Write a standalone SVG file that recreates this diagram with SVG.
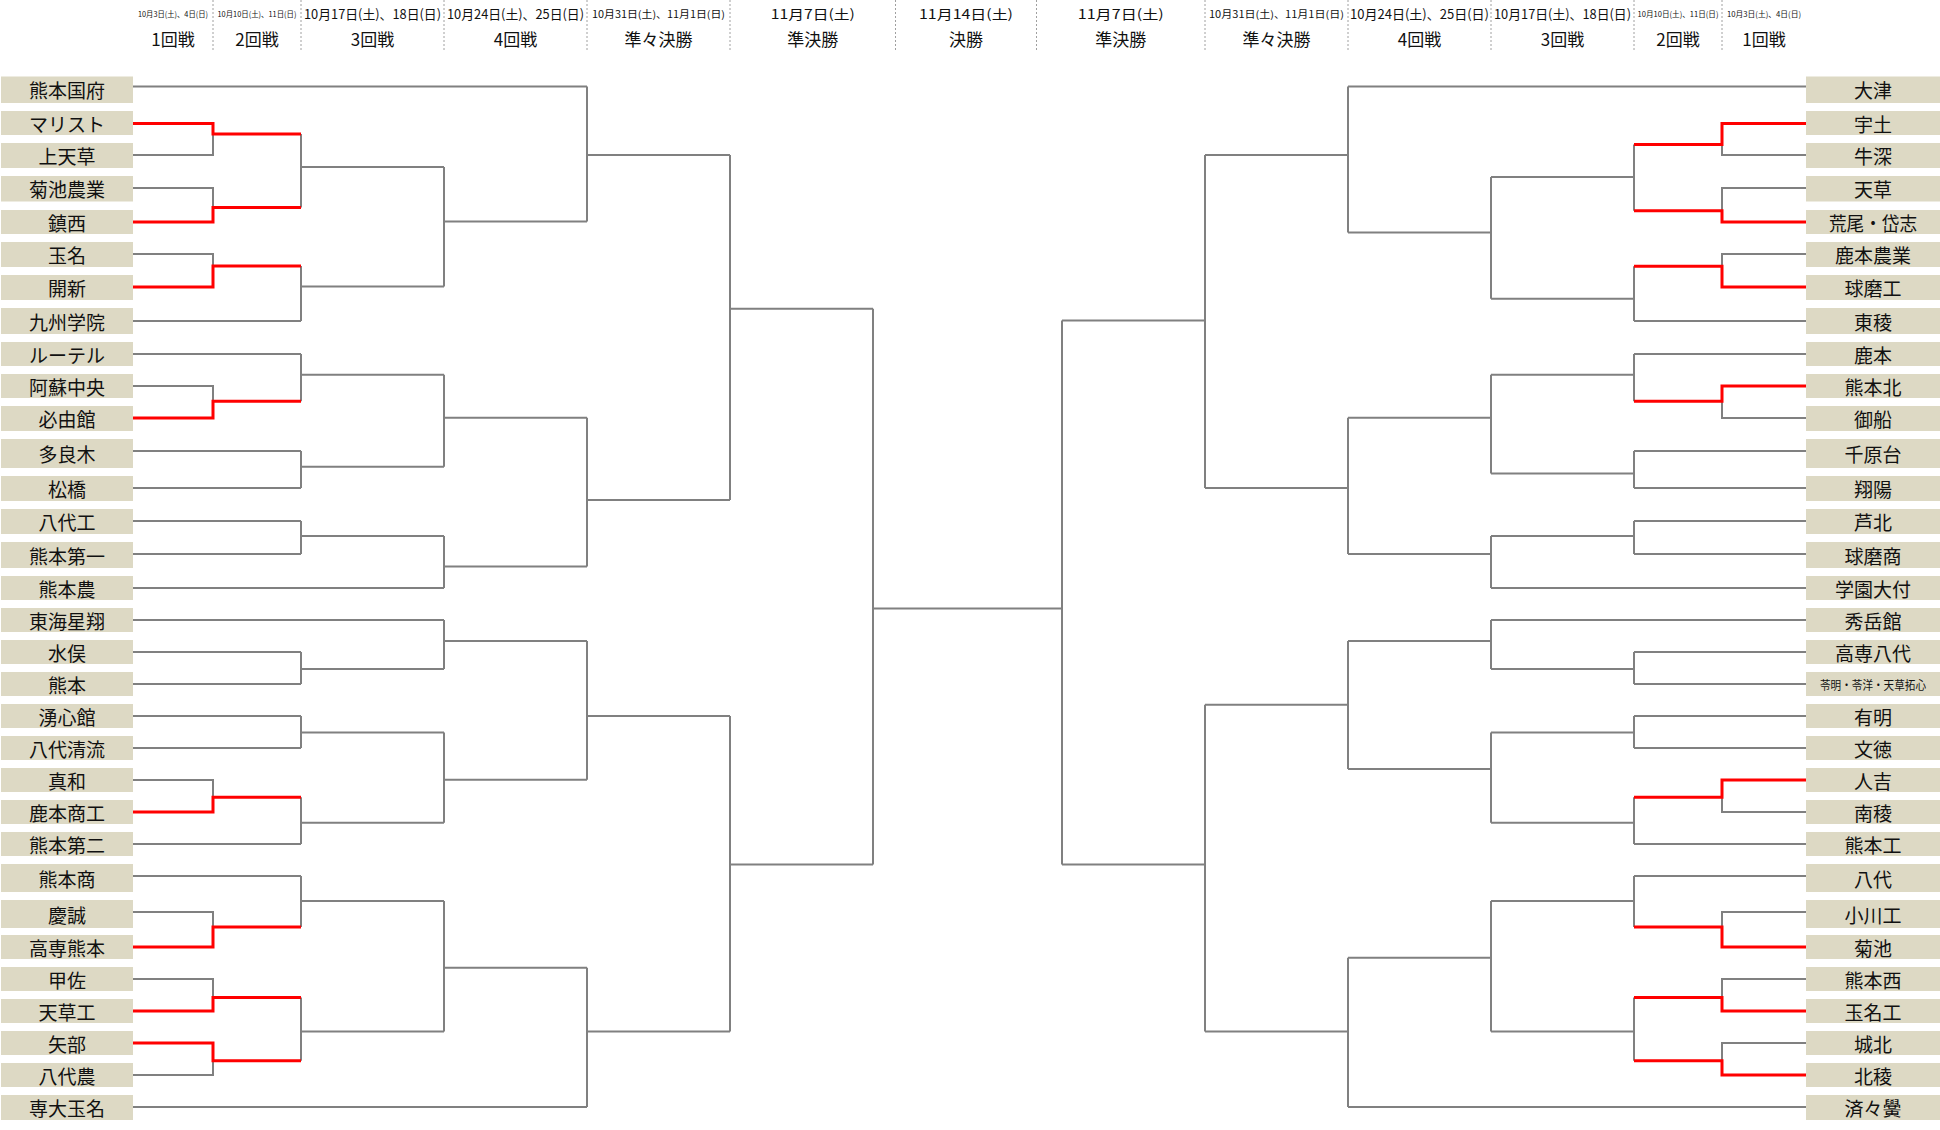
<svg xmlns="http://www.w3.org/2000/svg" width="1940" height="1130" viewBox="0 0 1940 1130">
<style>
.bg{fill:#ffffff}
.box{fill:#ddd9c4}
.nm{font-family:"Noto Sans CJK JP","Noto Sans CJK SC",sans-serif;font-size:19px;fill:#111;text-anchor:middle;dominant-baseline:central}
.sm{font-size:12px}
.dt{font-family:"Noto Sans CJK JP","Liberation Sans",sans-serif;font-size:13px;fill:#111;text-anchor:middle}
.dts{font-size:8px}
.dtm{font-size:10px}
.rd{font-family:"Noto Sans CJK JP","Liberation Sans",sans-serif;font-size:17px;fill:#111;text-anchor:middle}
.sep{stroke:#a0a0a0;stroke-width:1;stroke-dasharray:2 2;fill:none}
.g{fill:none;stroke:#808080;stroke-width:2}
.r{fill:none;stroke:#ff0000;stroke-width:3}
</style>
<rect class="bg" x="0" y="0" width="1940" height="1130"/>
<g id="header">
<path class="sep" d="M213,0V52M301,0V52M444,0V52M587,0V52M730,0V52M895.5,0V52M1036.5,0V52M1205,0V52M1348,0V52M1491,0V52M1634,0V52M1722,0V52"/>
<text class="dt dts" x="173" y="17" textLength="70" lengthAdjust="spacingAndGlyphs">10月3日(土)、4日(日)</text>
<text class="dt dts" x="257" y="17" textLength="79" lengthAdjust="spacingAndGlyphs">10月10日(土)、11日(日)</text>
<text class="dt" x="372.5" y="19" textLength="137" lengthAdjust="spacingAndGlyphs">10月17日(土)、18日(日)</text>
<text class="dt" x="515.5" y="19" textLength="137" lengthAdjust="spacingAndGlyphs">10月24日(土)、25日(日)</text>
<text class="dt dtm" x="658.5" y="18" textLength="133" lengthAdjust="spacingAndGlyphs">10月31日(土)、11月1日(日)</text>
<text class="dt" x="812.75" y="19" textLength="84" lengthAdjust="spacingAndGlyphs">11月7日(土)</text>
<text class="dt" x="966" y="19" textLength="94" lengthAdjust="spacingAndGlyphs">11月14日(土)</text>
<text class="dt" x="1120.75" y="19" textLength="86" lengthAdjust="spacingAndGlyphs">11月7日(土)</text>
<text class="dt dtm" x="1276.5" y="18" textLength="135" lengthAdjust="spacingAndGlyphs">10月31日(土)、11月1日(日)</text>
<text class="dt" x="1419.5" y="19" textLength="139" lengthAdjust="spacingAndGlyphs">10月24日(土)、25日(日)</text>
<text class="dt" x="1562.5" y="19" textLength="137" lengthAdjust="spacingAndGlyphs">10月17日(土)、18日(日)</text>
<text class="dt dts" x="1678" y="17" textLength="81" lengthAdjust="spacingAndGlyphs">10月10日(土)、11日(日)</text>
<text class="dt dts" x="1764" y="17" textLength="74" lengthAdjust="spacingAndGlyphs">10月3日(土)、4日(日)</text>
<text class="rd" x="173" y="46">1回戦</text>
<text class="rd" x="257" y="46">2回戦</text>
<text class="rd" x="372.5" y="46">3回戦</text>
<text class="rd" x="515.5" y="46">4回戦</text>
<text class="rd" x="658.5" y="46">準々決勝</text>
<text class="rd" x="812.75" y="46">準決勝</text>
<text class="rd" x="966" y="46">決勝</text>
<text class="rd" x="1120.75" y="46">準決勝</text>
<text class="rd" x="1276.5" y="46">準々決勝</text>
<text class="rd" x="1419.5" y="46">4回戦</text>
<text class="rd" x="1562.5" y="46">3回戦</text>
<text class="rd" x="1678" y="46">2回戦</text>
<text class="rd" x="1764" y="46">1回戦</text>
</g>
<g id="connectors">
<path class="g" d="M133,86.5H587 M133,155H213V134 M133,188H213V207.4 M301,134V207.4 M301,167H444 M133,254H213V266 M133,321H301 M301,266V321 M301,286.6H444 M444,167V286.6 M444,221.5H587 M587,86.5V221.5 M587,155H730
M133,354H301 M133,386H213V401.3 M301,354V401.3 M301,374.8H444 M133,451H301 M133,488H301 M301,451V488 M301,466.7H444 M444,374.8V466.7 M444,417.8H587 M133,521H301 M133,554H301 M301,521V554 M301,536H444 M133,588H444 M444,536V588 M444,566.6H587 M587,417.8V566.6 M587,500H730 M730,155V500 M730,308.8H873
M133,620H444 M133,652H301 M133,684H301 M301,652V684 M301,669H444 M444,620V669 M444,641H587 M133,716H301 M133,748H301 M301,716V748 M301,732.6H444 M133,780H213V797.3 M133,844H301 M301,797.3V844 M301,822.8H444 M444,732.6V822.8 M444,779.8H587 M587,641V779.8 M587,716H730
M133,876H301 M133,912H213V927 M301,876V927 M301,901H444 M133,979H213V997.4 M133,1075H213V1060.8 M301,997.4V1060.8 M301,1031.5H444 M444,901V1031.5 M444,967.8H587 M133,1107H587 M587,967.8V1107 M587,1031.5H730 M730,716V1031.5 M730,864.5H873 M873,308.8V864.5 M873,608.5H1062"/>
<path class="g" d="M1806,86.5H1348 M1806,155H1722V144.4 M1806,188H1722V210.8 M1634,144.4V210.8 M1634,177H1491 M1806,254H1722V266.3 M1806,321H1634 M1634,266.3V321 M1634,298.7H1491 M1491,177V298.7 M1491,232.5H1348 M1348,86.5V232.5 M1348,155H1205
M1806,354H1634 M1806,418H1722V401.3 M1634,354V401.3 M1634,374.8H1491 M1806,451H1634 M1806,488H1634 M1634,451V488 M1634,473.6H1491 M1491,374.8V473.6 M1491,417.8H1348 M1806,521H1634 M1806,554H1634 M1634,521V554 M1634,536H1491 M1806,588H1491 M1491,536V588 M1491,554H1348 M1348,417.8V554 M1348,488H1205 M1205,155V488 M1205,320.6H1062
M1806,620H1491 M1806,652H1634 M1806,684H1634 M1634,652V684 M1634,669H1491 M1491,620V669 M1491,641H1348 M1806,716H1634 M1806,748H1634 M1634,716V748 M1634,732.6H1491 M1806,812H1722V797.3 M1806,844H1634 M1634,797.3V844 M1634,822.8H1491 M1491,732.6V822.8 M1491,769H1348 M1348,641V769 M1348,704.7H1205
M1806,876H1634 M1806,912H1722V927 M1634,876V927 M1634,901H1491 M1806,979H1722V997.4 M1806,1043H1722V1060.8 M1634,997.4V1060.8 M1634,1031.5H1491 M1491,901V1031.5 M1491,957.8H1348 M1806,1107H1348 M1348,957.8V1107 M1348,1031.5H1205 M1205,704.7V1031.5 M1205,864.5H1062 M1062,320.6V864.5"/>
<path class="r" d="M133,123.4H213V134H301 M133,222H213V207.4H301 M133,287H213V266H301 M133,418H213V401.3H301 M133,812H213V797.3H301 M133,947H213V927H301 M133,1011H213V997.4H301 M133,1043H213V1060.8H301"/>
<path class="r" d="M1806,123.4H1722V144.4H1634 M1806,222H1722V210.8H1634 M1806,287H1722V266.3H1634 M1806,386H1722V401.3H1634 M1806,780H1722V797.3H1634 M1806,947H1722V927H1634 M1806,1011H1722V997.4H1634 M1806,1075H1722V1060.8H1634"/>
</g>
<g id="left-teams">
<g id="L01"><rect class="box" x="1" y="76.5" width="132" height="26.5"/><text class="nm" x="67" y="89.7">熊本国府</text></g>
<g id="L02"><rect class="box" x="1" y="111" width="132" height="24"/><text class="nm" x="67" y="123">マリスト</text></g>
<g id="L03"><rect class="box" x="1" y="143" width="132" height="25"/><text class="nm" x="67" y="155.5">上天草</text></g>
<g id="L04"><rect class="box" x="1" y="176" width="132" height="25.5"/><text class="nm" x="67" y="188.7">菊池農業</text></g>
<g id="L05"><rect class="box" x="1" y="210" width="132" height="24"/><text class="nm" x="67" y="222">鎮西</text></g>
<g id="L06"><rect class="box" x="1" y="242" width="132" height="25"/><text class="nm" x="67" y="254.5">玉名</text></g>
<g id="L07"><rect class="box" x="1" y="275" width="132" height="25"/><text class="nm" x="67" y="287.5">開新</text></g>
<g id="L08"><rect class="box" x="1" y="308" width="132" height="26"/><text class="nm" x="67" y="321">九州学院</text></g>
<g id="L09"><rect class="box" x="1" y="342" width="132" height="24"/><text class="nm" x="67" y="354">ルーテル</text></g>
<g id="L10"><rect class="box" x="1" y="374" width="132" height="24"/><text class="nm" x="67" y="386">阿蘇中央</text></g>
<g id="L11"><rect class="box" x="1" y="406" width="132" height="25"/><text class="nm" x="67" y="418.5">必由館</text></g>
<g id="L12"><rect class="box" x="1" y="439" width="132" height="29"/><text class="nm" x="67" y="453.5">多良木</text></g>
<g id="L13"><rect class="box" x="1" y="476" width="132" height="25"/><text class="nm" x="67" y="488.5">松橋</text></g>
<g id="L14"><rect class="box" x="1" y="509" width="132" height="25"/><text class="nm" x="67" y="521.5">八代工</text></g>
<g id="L15"><rect class="box" x="1" y="542" width="132" height="26"/><text class="nm" x="67" y="555">熊本第一</text></g>
<g id="L16"><rect class="box" x="1" y="576" width="132" height="24"/><text class="nm" x="67" y="588">熊本農</text></g>
<g id="L17"><rect class="box" x="1" y="608" width="132" height="24"/><text class="nm" x="67" y="620">東海星翔</text></g>
<g id="L18"><rect class="box" x="1" y="640" width="132" height="24"/><text class="nm" x="67" y="652">水俣</text></g>
<g id="L19"><rect class="box" x="1" y="672" width="132" height="24"/><text class="nm" x="67" y="684">熊本</text></g>
<g id="L20"><rect class="box" x="1" y="704" width="132" height="24"/><text class="nm" x="67" y="716">湧心館</text></g>
<g id="L21"><rect class="box" x="1" y="736" width="132" height="24"/><text class="nm" x="67" y="748">八代清流</text></g>
<g id="L22"><rect class="box" x="1" y="768" width="132" height="24"/><text class="nm" x="67" y="780">真和</text></g>
<g id="L23"><rect class="box" x="1" y="800" width="132" height="24"/><text class="nm" x="67" y="812">鹿本商工</text></g>
<g id="L24"><rect class="box" x="1" y="832" width="132" height="24"/><text class="nm" x="67" y="844">熊本第二</text></g>
<g id="L25"><rect class="box" x="1" y="864" width="132" height="28"/><text class="nm" x="67" y="878">熊本商</text></g>
<g id="L26"><rect class="box" x="1" y="900" width="132" height="28"/><text class="nm" x="67" y="914">慶誠</text></g>
<g id="L27"><rect class="box" x="1" y="935" width="132" height="24"/><text class="nm" x="67" y="947">高専熊本</text></g>
<g id="L28"><rect class="box" x="1" y="967" width="132" height="24"/><text class="nm" x="67" y="979">甲佐</text></g>
<g id="L29"><rect class="box" x="1" y="999" width="132" height="24"/><text class="nm" x="67" y="1011">天草工</text></g>
<g id="L30"><rect class="box" x="1" y="1031" width="132" height="24"/><text class="nm" x="67" y="1043">矢部</text></g>
<g id="L31"><rect class="box" x="1" y="1063" width="132" height="24"/><text class="nm" x="67" y="1075">八代農</text></g>
<g id="L32"><rect class="box" x="1" y="1095" width="132" height="25"/><text class="nm" x="67" y="1107.5">専大玉名</text></g>
</g>
<g id="right-teams">
<g id="R01"><rect class="box" x="1806" y="76.5" width="134" height="26.5"/><text class="nm" x="1873" y="89.7">大津</text></g>
<g id="R02"><rect class="box" x="1806" y="111" width="134" height="24"/><text class="nm" x="1873" y="123">宇土</text></g>
<g id="R03"><rect class="box" x="1806" y="143" width="134" height="25"/><text class="nm" x="1873" y="155.5">牛深</text></g>
<g id="R04"><rect class="box" x="1806" y="176" width="134" height="25.5"/><text class="nm" x="1873" y="188.7">天草</text></g>
<g id="R05"><rect class="box" x="1806" y="210" width="134" height="24"/><text class="nm" x="1873" y="222" textLength="88" lengthAdjust="spacingAndGlyphs">荒尾・岱志</text></g>
<g id="R06"><rect class="box" x="1806" y="242" width="134" height="25"/><text class="nm" x="1873" y="254.5">鹿本農業</text></g>
<g id="R07"><rect class="box" x="1806" y="275" width="134" height="25"/><text class="nm" x="1873" y="287.5">球磨工</text></g>
<g id="R08"><rect class="box" x="1806" y="308" width="134" height="26"/><text class="nm" x="1873" y="321">東稜</text></g>
<g id="R09"><rect class="box" x="1806" y="342" width="134" height="24"/><text class="nm" x="1873" y="354">鹿本</text></g>
<g id="R10"><rect class="box" x="1806" y="374" width="134" height="24"/><text class="nm" x="1873" y="386">熊本北</text></g>
<g id="R11"><rect class="box" x="1806" y="406" width="134" height="25"/><text class="nm" x="1873" y="418.5">御船</text></g>
<g id="R12"><rect class="box" x="1806" y="439" width="134" height="29"/><text class="nm" x="1873" y="453.5">千原台</text></g>
<g id="R13"><rect class="box" x="1806" y="476" width="134" height="25"/><text class="nm" x="1873" y="488.5">翔陽</text></g>
<g id="R14"><rect class="box" x="1806" y="509" width="134" height="25"/><text class="nm" x="1873" y="521.5">芦北</text></g>
<g id="R15"><rect class="box" x="1806" y="542" width="134" height="26"/><text class="nm" x="1873" y="555">球磨商</text></g>
<g id="R16"><rect class="box" x="1806" y="576" width="134" height="24"/><text class="nm" x="1873" y="588">学園大付</text></g>
<g id="R17"><rect class="box" x="1806" y="608" width="134" height="24"/><text class="nm" x="1873" y="620">秀岳館</text></g>
<g id="R18"><rect class="box" x="1806" y="640" width="134" height="24"/><text class="nm" x="1873" y="652">高専八代</text></g>
<g id="R19"><rect class="box" x="1806" y="672" width="134" height="24"/><text class="nm sm" x="1873" y="684" textLength="106" lengthAdjust="spacingAndGlyphs">苓明・苓洋・天草拓心</text></g>
<g id="R20"><rect class="box" x="1806" y="704" width="134" height="24"/><text class="nm" x="1873" y="716">有明</text></g>
<g id="R21"><rect class="box" x="1806" y="736" width="134" height="24"/><text class="nm" x="1873" y="748">文徳</text></g>
<g id="R22"><rect class="box" x="1806" y="768" width="134" height="24"/><text class="nm" x="1873" y="780">人吉</text></g>
<g id="R23"><rect class="box" x="1806" y="800" width="134" height="24"/><text class="nm" x="1873" y="812">南稜</text></g>
<g id="R24"><rect class="box" x="1806" y="832" width="134" height="24"/><text class="nm" x="1873" y="844">熊本工</text></g>
<g id="R25"><rect class="box" x="1806" y="864" width="134" height="28"/><text class="nm" x="1873" y="878">八代</text></g>
<g id="R26"><rect class="box" x="1806" y="900" width="134" height="28"/><text class="nm" x="1873" y="914">小川工</text></g>
<g id="R27"><rect class="box" x="1806" y="935" width="134" height="24"/><text class="nm" x="1873" y="947">菊池</text></g>
<g id="R28"><rect class="box" x="1806" y="967" width="134" height="24"/><text class="nm" x="1873" y="979">熊本西</text></g>
<g id="R29"><rect class="box" x="1806" y="999" width="134" height="24"/><text class="nm" x="1873" y="1011">玉名工</text></g>
<g id="R30"><rect class="box" x="1806" y="1031" width="134" height="24"/><text class="nm" x="1873" y="1043">城北</text></g>
<g id="R31"><rect class="box" x="1806" y="1063" width="134" height="24"/><text class="nm" x="1873" y="1075">北稜</text></g>
<g id="R32"><rect class="box" x="1806" y="1095" width="134" height="25"/><text class="nm" x="1873" y="1107.5">済々黌</text></g>
</g>
</svg>
